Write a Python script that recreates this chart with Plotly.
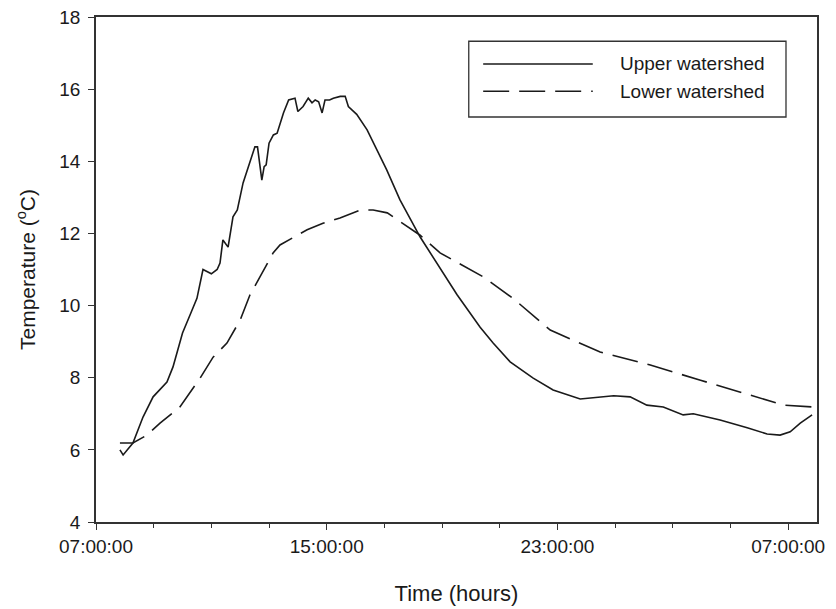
import pandas as pd
import plotly.graph_objects as go

# Decimal hours since 00:00 of the first day
upper_hours = [7.83, 7.94, 8.28, 8.63, 8.98, 9.46, 9.67, 10.0, 10.26, 10.5, 10.71, 10.85, 11.0,
               11.2, 11.3, 11.4, 11.58, 11.75, 11.9, 12.1, 12.34, 12.51, 12.6, 12.75, 12.83,
               12.9, 13.0, 13.15, 13.28, 13.5, 13.68, 13.85, 13.9, 14.0, 14.18, 14.36, 14.49,
               14.6, 14.72, 14.84, 14.94, 15.1, 15.23, 15.47, 15.64, 15.75, 16.04, 16.4, 16.74,
               17.08, 17.54, 18.24, 19.52, 20.32, 20.77, 21.36, 22.16, 22.85, 23.79, 24.48,
               24.95, 25.52, 26.1, 26.67, 27.36, 27.71, 28.64, 29.58, 30.27, 30.72, 31.07,
               31.42, 31.83]
upper_temp = [6.0, 5.86, 6.19, 6.91, 7.47, 7.88, 8.3, 9.24, 9.74, 10.2, 11.0, 10.95, 10.88,
              11.0, 11.18, 11.82, 11.62, 12.46, 12.65, 13.4, 13.95, 14.4, 14.4, 13.48, 13.85,
              13.9, 14.5, 14.73, 14.78, 15.34, 15.7, 15.73, 15.75, 15.38, 15.52, 15.75, 15.62,
              15.7, 15.65, 15.34, 15.7, 15.7, 15.75, 15.8, 15.8, 15.52, 15.3, 14.87, 14.3,
              13.76, 12.93, 11.9, 10.3, 9.4, 8.96, 8.44, 7.99, 7.66, 7.41, 7.47,
              7.5, 7.47, 7.24, 7.19, 6.97, 7.0, 6.83, 6.61, 6.44, 6.41, 6.5,
              6.74, 6.97]

lower_hours = [7.83, 8.28, 8.77, 9.22, 9.91, 10.61, 11.06, 11.54, 12.0, 12.34, 12.69, 13.14,
               13.38, 13.83, 14.32, 14.87, 15.46, 16.16, 16.61, 17.1, 17.65, 18.24, 18.93,
               20.42, 21.46, 22.75, 24.48, 26.22, 27.96, 29.68, 30.84, 31.83]
lower_temp = [6.19, 6.19, 6.41, 6.74, 7.19, 7.99, 8.57, 8.96, 9.6, 10.3, 10.8, 11.46,
              11.68, 11.87, 12.1, 12.28, 12.43, 12.65, 12.65, 12.57, 12.28, 11.95, 11.46,
              10.8, 10.2, 9.32, 8.71, 8.35, 7.93, 7.52, 7.24, 7.19]

series_names = ["Upper watershed", "Lower watershed"]
base_day = pd.Timestamp("2000-01-01")
x_start = base_day + pd.Timedelta(hours=7)
x_end = base_day + pd.Timedelta(hours=32)

def to_time(hours):
    return [base_day + pd.Timedelta(hours=h) for h in hours]

INK = "#1a1a1a"
FONT = "Liberation Sans, Arial, sans-serif"

fig = go.Figure()
fig.add_trace(go.Scatter(x=to_time(upper_hours), y=upper_temp, mode="lines",
                         name=series_names[0], line=dict(color=INK, width=1.6)))
fig.add_trace(go.Scatter(x=to_time(lower_hours), y=lower_temp, mode="lines",
                         name=series_names[1],
                         line=dict(color=INK, width=1.6, dash="26px,10px")))

# Custom legend box (long line samples, as in the original)
fig.add_shape(type="rect", xref="paper", yref="paper", x0=0.517, x1=0.957, y0=0.802, y1=0.952,
              line=dict(color="#333", width=1.3), fillcolor="white", layer="above")
fig.add_shape(type="line", xref="paper", yref="paper", x0=0.537, x1=0.689, y0=0.907, y1=0.907,
              line=dict(color=INK, width=1.6))
fig.add_shape(type="line", xref="paper", yref="paper", x0=0.537, x1=0.689, y0=0.853, y1=0.853,
              line=dict(color=INK, width=1.6, dash="26px,10px"))
for name, yy in zip(series_names, [0.907, 0.853]):
    fig.add_annotation(xref="paper", yref="paper", x=0.724, y=yy, text=name, showarrow=False,
                       xanchor="left", yanchor="middle", font=dict(size=19, color=INK, family=FONT))

# The page body adds an 8px offset; the figure is sized to fit the window after it.
fig.update_layout(
    width=828, height=601,
    margin=dict(l=88, r=19, t=9, b=87),
    paper_bgcolor="white", plot_bgcolor="white",
    showlegend=False,
    font=dict(family=FONT, color=INK, size=18),
)
fig.update_xaxes(
    type="date", range=[x_start, x_end], automargin=False,
    tick0=x_start, dtick=8 * 3600 * 1000, tickformat="%H:%M:%S",
    ticks="outside", ticklen=6, tickwidth=1.3, tickcolor="#333",
    minor=dict(dtick=2 * 3600 * 1000, tick0=x_start, ticks="outside", ticklen=4,
               tickwidth=1.1, tickcolor="#333", showgrid=False),
    showline=True, linecolor="#333", linewidth=1.6, mirror=True,
    showgrid=False, zeroline=False, ticklabeloverflow="allow",
    tickfont=dict(size=19),
    title=dict(text="Time (hours)", font=dict(size=22), standoff=30),
)
fig.update_yaxes(
    range=[4, 18], dtick=2, tick0=4, automargin=False,
    ticks="outside", ticklen=6, tickwidth=1.3, tickcolor="#333",
    ticklabelstandoff=4, ticklabeloverflow="allow",
    showline=True, linecolor="#333", linewidth=1.6, mirror=True,
    showgrid=False, zeroline=False,
    tickfont=dict(size=19),
    title=dict(text="Temperature (<sup>o</sup>C)", font=dict(size=21), standoff=18),
)

fig.write_html("out.html")
